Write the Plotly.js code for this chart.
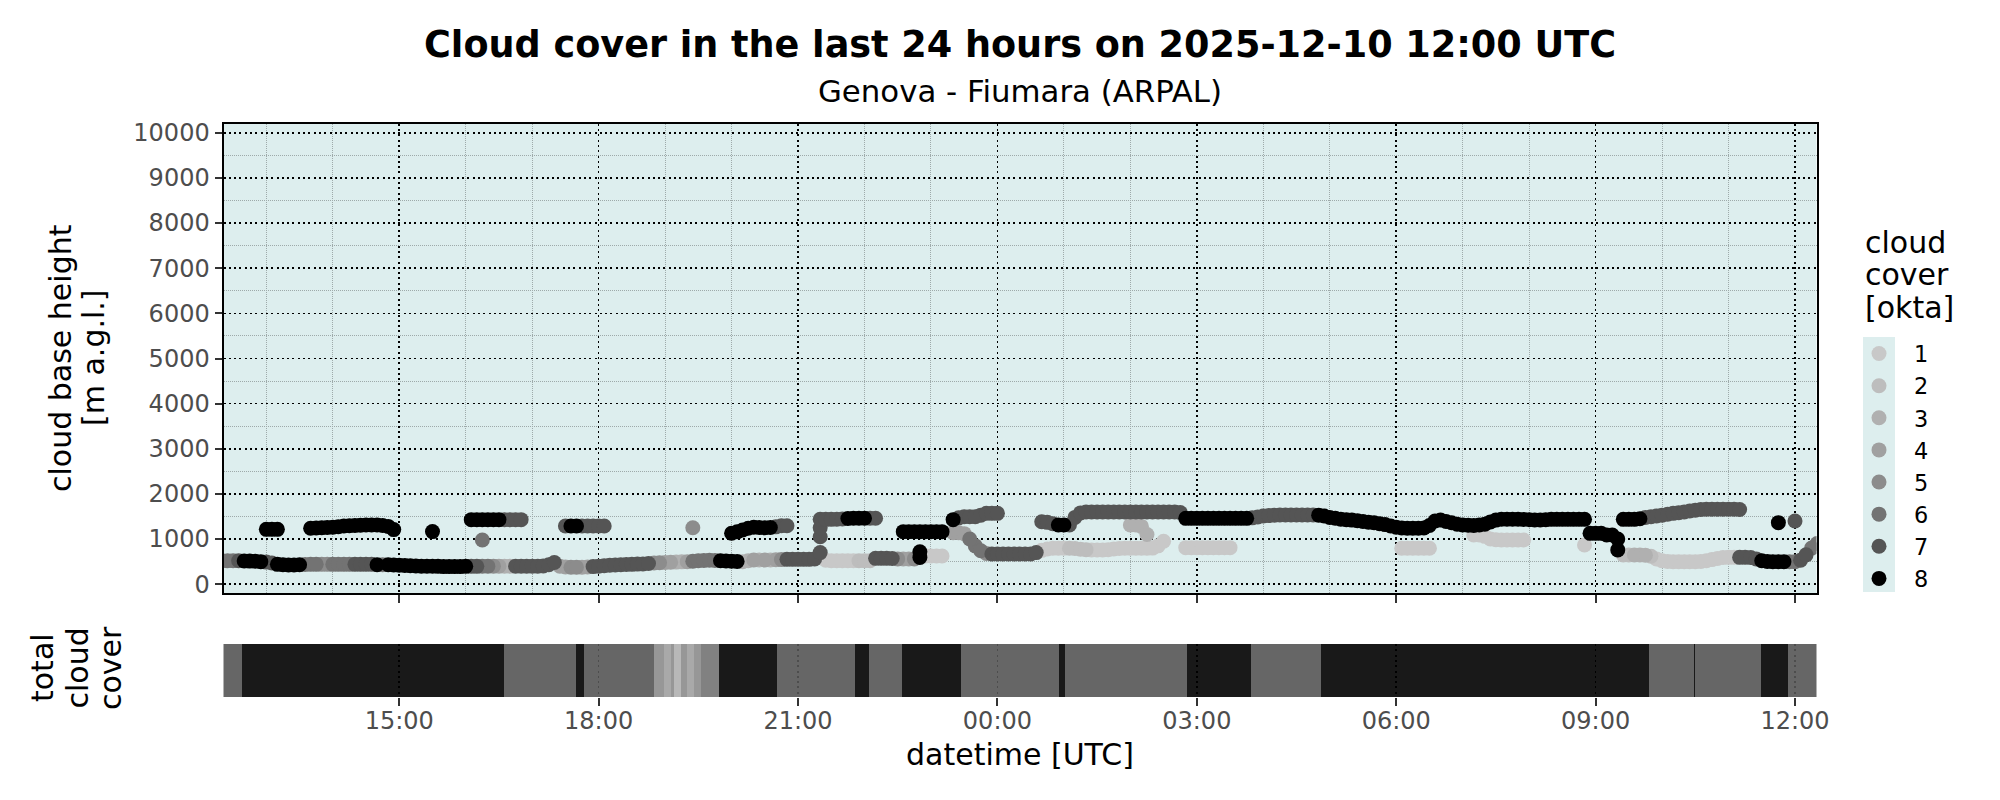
<!DOCTYPE html>
<html><head><meta charset="utf-8">
<script src="https://cdn.plot.ly/plotly-3.0.1.min.js"></script>
<style>html,body{margin:0;padding:0;background:#fff}</style>
</head><body><div id="chart" style="width:2000px;height:800px"></div>
<script>
// ---------- data ----------
const oktaLevels = [1,2,3,4,5,6,7,8];
const oktaColors = ['#c8c8c8','#bdbdbd','#b0b0b0','#a0a0a0','#8c8c8c','#737373','#555555','#000000'];

// 5-minute sampling grid: one row per hour
const sampleHours = ["2025-12-09 12","2025-12-09 13","2025-12-09 14","2025-12-09 15","2025-12-09 16","2025-12-09 17","2025-12-09 18","2025-12-09 19","2025-12-09 20","2025-12-09 21","2025-12-09 22","2025-12-09 23",
  "2025-12-10 00","2025-12-10 01","2025-12-10 02","2025-12-10 03","2025-12-10 04","2025-12-10 05","2025-12-10 06","2025-12-10 07","2025-12-10 08","2025-12-10 09","2025-12-10 10","2025-12-10 11","2025-12-10 12"];
const sampleMinutes = ["00","05","10","15","20","25","30","35","40","45","50","55"];

// lowest cloud layer: base height [m] and cover [okta] (0 = no layer)
const lowHeight = [
null,null,null,null,520,520,520,518,515,512,510,500,
490,470,440,430,425,425,430,435,440,440,440,440,
440,440,440,440,440,440,440,440,430,430,430,425,
420,415,410,405,400,400,400,395,390,390,390,390,
395,395,395,400,400,400,400,400,400,400,400,400,
400,400,405,430,480,400,380,375,375,378,380,390,
400,410,420,425,430,435,440,445,450,460,470,475,
480,485,490,495,500,510,520,525,530,525,520,515,
510,505,500,520,536,536,536,538,540,545,550,550,
550,550,550,560,700,530,521,521,521,521,521,521,
521,521,573,573,573,570,560,560,560,560,590,625,
625,625,625,null,null,null,null,null,850,740,680,669,
669,669,669,669,669,669,669,700,750,780,795,795,
795,795,790,775,765,760,760,760,765,780,790,795,
795,795,795,795,800,850,950,null,null,null,810,810,
810,810,810,810,810,810,810,null,null,null,null,null,
null,null,null,null,null,null,null,null,null,null,null,null,
null,null,null,null,null,null,null,null,null,null,null,null,
null,795,795,795,795,795,795,null,null,null,null,null,
null,null,1090,1090,1060,1000,985,980,980,980,980,980,
null,null,null,null,null,null,null,null,null,null,870,null,
null,null,null,null,760,647,647,647,647,640,620,560,
520,505,499,499,499,499,499,505,520,545,570,590,
595,595,595,595,590,560,520,505,499,499,499,499,
499,530,650,800,900,null,null,null,null,null,null,null
];
const lowOkta = [
0,0,0,0,6,6,6,7,8,8,8,8,
7,7,8,8,8,8,8,6,6,6,5,5,
6,6,6,6,7,7,7,7,8,6,8,8,
8,8,8,8,8,8,8,8,8,8,8,8,
8,7,7,6,6,5,4,3,3,7,7,7,
7,7,7,7,7,4,4,5,5,4,4,7,
7,7,7,7,7,7,7,7,7,7,5,5,
4,4,3,3,4,6,6,6,6,6,8,8,
8,8,3,3,4,3,4,3,4,5,7,7,
7,7,7,7,7,1,1,1,1,1,1,2,
2,2,7,7,7,7,5,4,4,5,8,1,
1,1,1,0,0,0,0,0,6,6,5,7,
7,7,7,7,7,7,7,7,1,1,1,1,
1,2,2,2,2,1,1,1,1,1,1,1,
1,1,1,1,1,1,1,0,0,0,1,1,
1,1,1,1,1,1,1,0,0,0,0,0,
0,0,0,0,0,0,0,0,0,0,0,0,
0,0,0,0,0,0,0,0,0,0,0,0,
0,1,1,1,1,1,1,0,0,0,0,0,
0,0,1,1,1,1,1,1,1,1,1,1,
0,0,0,0,0,0,0,0,0,0,1,0,
0,0,0,0,8,2,2,3,3,3,2,1,
1,1,1,1,1,1,1,1,1,1,1,1,
1,1,7,7,7,7,8,8,8,8,8,6,
6,7,7,6,6,0,0,0,0,0,0,0
];

// upper cloud layer
const upHeight = [
null,null,null,null,null,null,null,null,null,null,null,null,
1215,1215,1215,null,null,null,null,null,1240,1245,1250,1255,
1260,1275,1290,1295,1300,1305,1310,1310,1310,1300,1280,1210,
null,null,null,null,null,null,1165,null,null,null,null,null,
null,1430,1430,1430,1430,1430,1430,1430,1430,1430,1430,null,
null,null,null,null,null,null,1290,1290,1290,1290,1290,1290,
1290,1290,null,null,null,null,null,null,null,null,null,null,
null,null,null,null,null,1250,null,null,null,null,null,null,
1130,1160,1200,1240,1260,1255,1252,1255,1270,1296,1296,null,
null,null,null,null,1437,1437,1437,1440,1445,1455,1460,1460,
1460,1460,1460,null,null,null,null,1164,1164,1164,1164,1164,
1164,1164,1164,null,1430,1470,1496,1496,1496,1530,1570,1570,
1570,null,null,null,null,null,null,null,1385,1370,1340,1311,
1311,1311,1480,1580,1600,1600,1600,1600,1600,1600,1600,1600,
1600,1600,1600,1600,1600,1600,1600,1600,1600,1590,1459,1459,
1459,1459,1459,1459,1459,1459,1459,1459,1459,1459,1470,1490,
1510,1520,1530,1533,1533,1533,1533,1533,1533,1533,1530,1510,
1480,1460,1440,1430,1420,1405,1390,1375,1360,1340,1320,1290,
1260,1245,1238,1238,1238,1245,1300,1400,1420,1390,1360,1330,
1311,1305,1300,1310,1330,1380,1420,1440,1440,1440,1440,1435,
1430,1425,1425,1430,1437,1437,1437,1437,1437,1437,1437,null,
null,null,null,null,null,1437,1437,1437,1450,1480,1496,1510,
1530,1550,1570,1585,1600,1620,1640,1655,1659,1659,1659,1659,
1659,1659,1655,null,null,null,null,null,null,1363,null,null,
1400,null,null,null,null,null,null,null,null,null,null,null
];
const upOkta = [
0,0,0,0,0,0,0,0,0,0,0,0,
8,8,8,0,0,0,0,0,8,8,8,8,
8,8,8,8,8,8,8,8,8,8,8,8,
0,0,0,0,0,0,8,0,0,0,0,0,
0,8,8,8,8,8,8,7,7,7,7,0,
0,0,0,0,0,0,7,8,8,7,7,7,
7,7,0,0,0,0,0,0,0,0,0,0,
0,0,0,0,0,5,0,0,0,0,0,0,
8,8,8,8,8,8,8,8,7,7,7,0,
0,0,0,0,7,7,7,7,7,8,8,8,
8,7,7,0,0,0,0,8,8,8,8,8,
8,8,8,0,8,7,7,7,7,7,7,7,
7,0,0,0,0,0,0,0,7,7,7,8,
8,7,7,7,7,7,7,7,7,7,7,7,
7,7,7,7,7,7,7,7,7,7,8,8,
8,8,8,8,8,8,8,8,8,8,7,7,
7,7,7,7,7,7,7,7,7,7,8,8,
8,8,8,8,8,8,8,8,8,8,8,8,
8,8,8,8,8,8,8,8,8,8,8,8,
8,8,8,8,8,8,8,8,8,8,8,8,
8,8,8,8,8,8,8,8,8,8,8,0,
0,0,0,0,0,8,8,8,8,7,7,7,
7,7,7,7,7,7,7,7,7,7,7,7,
7,7,7,0,0,0,0,0,0,8,0,0,
7,0,0,0,0,0,0,0,0,0,0,0
];

// isolated intermediate layer returns
const midTime = ["2025-12-09 16:15","2025-12-09 21:20","2025-12-09 21:20","2025-12-09 22:50","2025-12-09 23:20","2025-12-09 23:25","2025-12-09 23:30","2025-12-09 23:35","2025-12-10 02:00","2025-12-10 02:05","2025-12-10 02:10","2025-12-10 02:15","2025-12-10 08:55","2025-12-10 09:00","2025-12-10 09:05","2025-12-10 09:10","2025-12-10 09:15","2025-12-10 09:20"];
const midHeight = [980,1050,1250,720,1140,1140,1120,1000,1310,1310,1280,1100,1127,1127,1127,1090,1090,1000];
const midOkta = [6,7,7,8,4,4,4,6,3,3,3,3,8,8,8,8,8,8];

// total cloud cover strip (segments)
const stripStart = ["2025-12-09 12:18","2025-12-09 12:38","2025-12-09 16:35","2025-12-09 17:40","2025-12-09 17:47","2025-12-09 18:50","2025-12-09 18:59","2025-12-09 19:05","2025-12-09 19:08","2025-12-09 19:14","2025-12-09 19:20","2025-12-09 19:26","2025-12-09 19:32","2025-12-09 19:49","2025-12-09 20:41","2025-12-09 21:51","2025-12-09 22:04","2025-12-09 22:34","2025-12-09 23:27","2025-12-10 00:56","2025-12-10 01:01","2025-12-10 02:51","2025-12-10 03:49","2025-12-10 04:52","2025-12-10 09:48","2025-12-10 10:29","2025-12-10 10:30","2025-12-10 11:29","2025-12-10 11:54"];
const stripEnd = ["2025-12-09 12:38","2025-12-09 16:35","2025-12-09 17:40","2025-12-09 17:47","2025-12-09 18:50","2025-12-09 18:59","2025-12-09 19:05","2025-12-09 19:08","2025-12-09 19:14","2025-12-09 19:20","2025-12-09 19:26","2025-12-09 19:32","2025-12-09 19:49","2025-12-09 20:41","2025-12-09 21:51","2025-12-09 22:04","2025-12-09 22:34","2025-12-09 23:27","2025-12-10 00:56","2025-12-10 01:01","2025-12-10 02:51","2025-12-10 03:49","2025-12-10 04:52","2025-12-10 09:48","2025-12-10 10:29","2025-12-10 10:30","2025-12-10 11:29","2025-12-10 11:54","2025-12-10 12:20"];
const stripOkta = [7,8,7,8,7,5,4,5,3,5,4,5,6,8,7,8,7,8,7,8,7,8,7,8,7,8,7,8,7];

// ---------- build traces ----------
const FONT = 'DejaVu Sans';
const gridTime = [];
sampleHours.forEach(h => sampleMinutes.forEach(m => gridTime.push(h + ':' + m)));

const traces = [];
oktaLevels.forEach((k, i) => {
  const xs = [], ys = [];
  gridTime.forEach((t, j) => { if (lowOkta[j] === k && lowHeight[j] !== null) { xs.push(t); ys.push(lowHeight[j]); } });
  midTime.forEach((t, j) => { if (midOkta[j] === k) { xs.push(t); ys.push(midHeight[j]); } });
  gridTime.forEach((t, j) => { if (upOkta[j] === k && upHeight[j] !== null) { xs.push(t); ys.push(upHeight[j]); } });
  traces.push({type:'scatter', mode:'markers', name:String(k), x:xs, y:ys, xaxis:'x', yaxis:'y',
    marker:{size:15, color:oktaColors[i], line:{width:0}}, hoverinfo:'skip'});
});
const toMs = s => Date.parse(s.replace(' ', 'T') + ':00Z');
traces.unshift({type:'bar', x:stripStart, y:stripStart.map(() => 1), base:0,
  width:stripStart.map((s, i) => toMs(stripEnd[i]) - toMs(s)), offset:0,
  marker:{color:stripOkta.map(k => oktaColors[k-1]), opacity:0.9, line:{width:0}},
  xaxis:'x2', yaxis:'y2', showlegend:false, hoverinfo:'skip'});

// ---------- layout ----------
const X0 = 223.5/2000, X1 = 1816.5/2000;
const py = p => 1 - p/800;
const xRange = ["2025-12-09 12:21:20","2025-12-10 12:19:25"];
const gridMajor = {showgrid:true, gridcolor:'#000000', griddash:'2px,3.3px', gridwidth:1.6};
const tickStyle = {ticks:'outside', tickwidth:2, tickcolor:'#333333', tickfont:{family:FONT, size:24, color:'#4d4d4d'}};
const minorGrid = {showgrid:true, gridcolor:'#9eaaaa', griddash:'1px,1px', gridwidth:1, ticks:''};

const ann = (text, x, y, opts) => Object.assign({text, x, y, xref:'paper', yref:'paper', showarrow:false,
  font:{family:FONT, size:30, color:'#000'}, xanchor:'center', yanchor:'middle'}, opts || {});

const layout = {
  width:2000, height:800, margin:{l:0, r:0, t:0, b:0}, autosize:false,
  paper_bgcolor:'#ffffff', plot_bgcolor:'#ffffff',
  font:{family:FONT, color:'#000'},
  title:{text:'Cloud cover in the last 24 hours on 2025-12-10 12:00 UTC',
    font:{family:FONT, size:36.6, weight:'bold', color:'#000'},
    xref:'paper', x:0.51, xanchor:'center', yref:'container', y:py(44.6), yanchor:'middle'},
  showlegend:true,
  legend:{x:(1879-35)/2000, xanchor:'left', y:py(332.5), yanchor:'top', itemwidth:60,
    font:{family:FONT, size:22.4, color:'#000'}, bgcolor:'rgba(0,0,0,0)', borderwidth:0, traceorder:'normal'},
  xaxis:Object.assign({domain:[X0, X1], range:xRange, type:'date', anchor:'y',
    tick0:'2025-12-09 15:00', dtick:10800000, tickformat:'%H:%M', showticklabels:false, ticklen:8,
    minor:Object.assign({tick0:'2025-12-09 15:00', dtick:3600000}, minorGrid),
    showline:true, mirror:true, linecolor:'#000', linewidth:2, zeroline:false}, gridMajor, tickStyle),
  yaxis:Object.assign({domain:[py(593), py(123.7)], range:[-195, 10202], anchor:'x',
    tick0:0, dtick:1000, tickformat:'d', ticklen:7,
    minor:Object.assign({tick0:0, dtick:500}, minorGrid),
    showline:true, mirror:true, linecolor:'#000', linewidth:2, zeroline:false}, gridMajor, tickStyle),
  xaxis2:Object.assign({domain:[X0, X1], range:xRange, type:'date', anchor:'y2',
    tick0:'2025-12-09 15:00', dtick:10800000, tickformat:'%H:%M', ticklen:8, ticklabelstandoff:-6,
    showline:false, zeroline:false}, gridMajor, tickStyle),
  yaxis2:{domain:[py(697), py(644)], range:[0, 1], anchor:'x2', showticklabels:false, ticks:'',
    showgrid:false, zeroline:false, showline:false},
  bargap:0,
  shapes:[
    {type:'rect', xref:'x domain', yref:'y domain', x0:0, x1:1, y0:0, y1:1, fillcolor:'#ddeeee', line:{width:0}, layer:'below'},
    {type:'rect', xref:'paper', yref:'paper', x0:1863/2000, x1:1895/2000, y0:py(592), y1:py(337), fillcolor:'#ddeeee', line:{width:0}, layer:'below'}
  ],
  annotations:[
    ann('Genova - Fiumara (ARPAL)', 0.51, py(90.6), {font:{family:FONT, size:30.8, color:'#000'}}),
    ann('cloud base height', 60/2000, py(358), {textangle:-90}),
    ann('[m a.g.l.]', 93/2000, py(358), {textangle:-90}),
    ann('total', 42/2000, py(668), {textangle:-90}),
    ann('cloud', 76.5/2000, py(668), {textangle:-90}),
    ann('cover', 110/2000, py(668), {textangle:-90}),
    ann('datetime [UTC]', 0.51, py(754)),
    ann('cloud', 1863/2000, py(242), {xanchor:'left'}),
    ann('cover', 1863/2000, py(274), {xanchor:'left'}),
    ann('[okta]', 1863/2000, py(307), {xanchor:'left'})
  ]
};

Plotly.newPlot('chart', traces, layout, {displayModeBar:false, staticPlot:true});
</script>
</body></html>
